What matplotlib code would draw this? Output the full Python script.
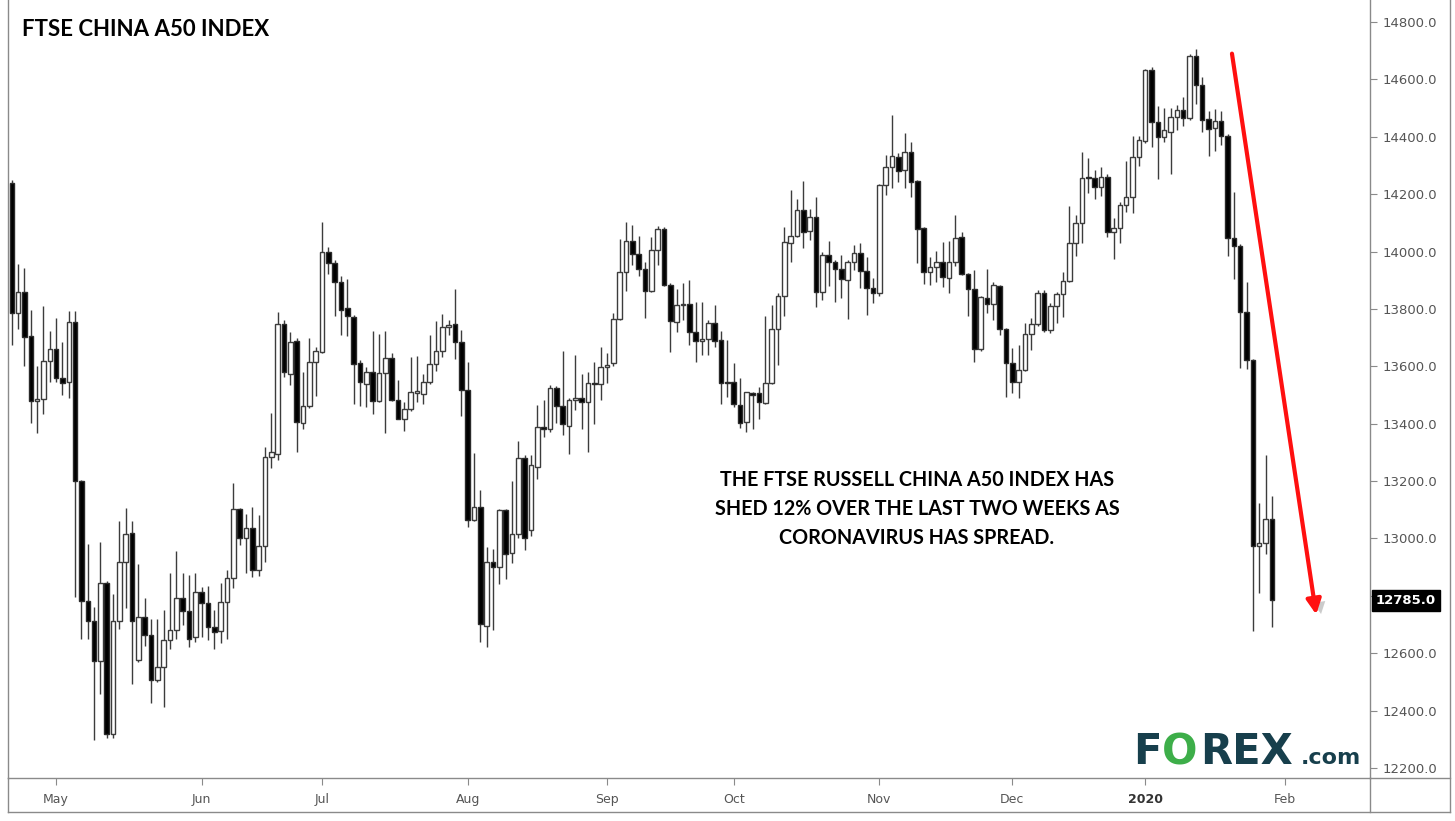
import numpy as np
import pandas as pd
import matplotlib.pyplot as plt
import matplotlib.transforms as mtransforms
import matplotlib.patheffects as pe
from matplotlib.lines import Line2D

# ================= daily OHLC, FTSE China A50 =================
opens = [14240, 13787, 13860, 13706, 13480, 13486, 13620, 13660, 13560, 13546,
         13753, 13199, 12781, 12712, 12572, 12845, 12318, 12712, 12919, 13019,
         12578, 12725, 12665, 12505, 12552, 12646, 12680, 12791, 12748, 12657,
         12814, 12776, 12692, 12678, 12779, 12863, 13101, 13003, 13035, 12889,
         12974, 13284, 13296, 13747, 13575, 13689, 13403, 13462, 13616, 13650,
         13999, 13961, 13894, 13805, 13772, 13612, 13540, 13581, 13480, 13577,
         13630, 13484, 13418, 13450, 13508, 13505, 13546, 13607, 13654, 13738,
         13747, 13685, 13519, 13066, 13110, 12694, 12919, 12901, 13099, 12950,
         13015, 13282, 13030, 13250, 13389, 13383, 13525, 13462, 13391, 13482,
         13490, 13476, 13542, 13538, 13598, 13610, 13764, 13929, 14037, 13991,
         13941, 13863, 14005, 14077, 13883, 13755, 13813, 13817, 13721, 13689,
         13694, 13750, 13692, 13546, 13546, 13465, 13407, 13506, 13506, 13473,
         13541, 13729, 13845, 14031, 14054, 14145, 14073, 14121, 13860, 13988,
         13965, 13938, 13901, 13965, 13996, 13933, 13872, 13854, 14232, 14296,
         14330, 14286, 14348, 14247, 14081, 13930, 13947, 13965, 13907, 13965,
         14052, 13922, 13868, 13659, 13837, 13819, 13880, 13729, 13610, 13546,
         13587, 13713, 13748, 13857, 13727, 13810, 13852, 13899, 14029, 14098,
         14261, 14255, 14226, 14261, 14069, 14081, 14162, 14189, 14328, 14386,
         14633, 14453, 14400, 14418, 14470, 14493, 14464, 14681, 14579, 14462,
         14430, 14455, 14403, 14049, 14021, 13791, 13622, 12974, 12984, 13067]
highs = [14250, 13958, 13944, 13796, 13600, 13809, 13723, 13767, 13684, 13793,
         13793, 13205, 12979, 12761, 12986, 12850, 12805, 13062, 13106, 13062,
         12912, 12792, 12719, 12719, 12752, 12880, 12957, 12880, 12872, 12878,
         12830, 12834, 12750, 12845, 12890, 13192, 13105, 13087, 13110, 13081,
         13319, 13436, 13790, 13763, 13720, 13700, 13581, 13700, 13668, 14104,
         14016, 13972, 13914, 13906, 13780, 13621, 13598, 13722, 13714, 13722,
         13645, 13552, 13476, 13633, 13635, 13575, 13709, 13758, 13784, 13761,
         13871, 13726, 13616, 13298, 13168, 12971, 12965, 13104, 13104, 13201,
         13340, 13290, 13290, 13465, 13482, 13534, 13530, 13653, 13490, 13639,
         13575, 13581, 13616, 13668, 13647, 13786, 14045, 14104, 14092, 14053,
         13964, 14051, 14088, 14085, 13891, 13871, 13889, 13901, 13825, 13825,
         13761, 13814, 13724, 13692, 13610, 13558, 13512, 13512, 13529, 13775,
         13814, 13856, 14084, 14214, 14182, 14247, 14150, 14191, 14000, 14037,
         13970, 13988, 13970, 14023, 14031, 13980, 13907, 14235, 14336, 14476,
         14342, 14412, 14383, 14250, 14085, 13982, 14003, 14034, 14038, 14127,
         14069, 13925, 13936, 13845, 13941, 13895, 13885, 13732, 13663, 13674,
         13752, 13767, 13866, 13866, 13820, 13860, 13930, 14159, 14127, 14348,
         14325, 14284, 14296, 14270, 14116, 14174, 14317, 14403, 14403, 14638,
         14642, 14507, 14502, 14502, 14510, 14540, 14688, 14706, 14609, 14490,
         14496, 14490, 14410, 14207, 14025, 13893, 13625, 13122, 13291, 13149]
lows = [13673, 13729, 13600, 13403, 13366, 13433, 13546, 13546, 13500, 13489,
        12795, 12648, 12650, 12298, 12458, 12305, 12305, 12685, 12759, 12492,
        12570, 12625, 12425, 12500, 12412, 12616, 12650, 12700, 12620, 12640,
        12657, 12646, 12613, 12634, 12648, 12826, 12977, 12878, 12866, 12868,
        12919, 13244, 13273, 13563, 13534, 13302, 13380, 13455, 13496, 13645,
        13921, 13775, 13709, 13705, 13468, 13461, 13459, 13433, 13476, 13366,
        13480, 13415, 13375, 13445, 13476, 13468, 13540, 13584, 13633, 13709,
        13624, 13426, 13041, 13060, 12640, 12622, 12680, 12843, 12860, 12915,
        13000, 12960, 13010, 13209, 13354, 13370, 13401, 13360, 13296, 13447,
        13383, 13302, 13398, 13484, 13542, 13600, 13760, 13863, 13952, 13914,
        13767, 13860, 13952, 13880, 13650, 13720, 13761, 13674, 13616, 13639,
        13639, 13668, 13469, 13494, 13459, 13384, 13372, 13380, 13415, 13470,
        13538, 13604, 13775, 13965, 14050, 14011, 14042, 13808, 13831, 13880,
        13825, 13837, 13764, 13936, 13872, 13779, 13822, 13845, 14197, 14220,
        14243, 14220, 14189, 13959, 13887, 13883, 13895, 13877, 13857, 13949,
        13920, 13775, 13616, 13654, 13785, 13761, 13709, 13494, 13506, 13488,
        13585, 13657, 13740, 13721, 13715, 13750, 13771, 13895, 13984, 14029,
        14203, 14182, 14194, 14052, 13973, 14029, 14139, 14133, 14298, 14380,
        14365, 14252, 14383, 14272, 14423, 14437, 14460, 14514, 14417, 14334,
        14352, 14373, 13984, 13904, 13594, 13590, 12678, 12809, 12947, 12692]
closes = [13787, 13860, 13704, 13480, 13486, 13620, 13660, 13560, 13542, 13756,
          13199, 12781, 12712, 12572, 12845, 12318, 12712, 12919, 13015, 12712,
          12725, 12665, 12505, 12552, 12645, 12680, 12791, 12748, 12651, 12814,
          12776, 12692, 12675, 12779, 12863, 13101, 13003, 13035, 12889, 12974,
          13284, 13302, 13747, 13581, 13685, 13406, 13462, 13616, 13654, 13999,
          13961, 13894, 13798, 13775, 13607, 13546, 13581, 13480, 13577, 13630,
          13484, 13418, 13450, 13511, 13510, 13546, 13607, 13654, 13738, 13743,
          13685, 13519, 13066, 13110, 12701, 12919, 12901, 13099, 12945, 13015,
          13282, 13000, 13255, 13389, 13383, 13525, 13462, 13398, 13482, 13490,
          13476, 13542, 13538, 13598, 13606, 13764, 13929, 14037, 13991, 13941,
          13863, 14005, 14077, 13883, 13758, 13813, 13817, 13721, 13689, 13694,
          13752, 13689, 13541, 13541, 13469, 13403, 13512, 13500, 13477, 13541,
          13729, 13845, 14034, 14054, 14145, 14069, 14121, 13860, 13988, 13965,
          13938, 13903, 13965, 13996, 13933, 13872, 13854, 14232, 14296, 14334,
          14282, 14348, 14243, 14077, 13930, 13947, 13965, 13912, 13965, 14049,
          13922, 13868, 13659, 13843, 13817, 13883, 13729, 13610, 13546, 13587,
          13713, 13748, 13857, 13727, 13810, 13852, 13899, 14029, 14098, 14255,
          14255, 14226, 14261, 14069, 14081, 14162, 14189, 14328, 14388, 14633,
          14453, 14400, 14423, 14470, 14493, 14464, 14681, 14579, 14458, 14428,
          14455, 14403, 14049, 14021, 13791, 13622, 12974, 12984, 13067, 12785]

# trading calendar: weekdays, minus the days the feed skipped
start_date = "2019-04-22"
calendar_end = "2020-02-28"
skipped_days = ["2019-06-07", "2019-09-13", "2019-12-25", "2020-01-01"]
month_labels = ["May", "Jun", "Jul", "Aug", "Sep", "Oct", "Nov", "Dec", "2020", "Feb"]
last_price = 12785.0
y_ticks = list(range(12200, 14801, 200))

title = "FTSE CHINA A50 INDEX"
note = ("THE FTSE RUSSELL CHINA A50 INDEX HAS\n"
        "SHED 12% OVER THE LAST TWO WEEKS AS\n"
        "CORONAVIRUS HAS SPREAD.")

# ============================================================

o = np.array(opens, float)
h = np.array(highs, float)
l = np.array(lows, float)
c = np.array(closes, float)
n = len(c)

cal = pd.bdate_range(start_date, calendar_end)
cal = cal[~cal.isin(pd.to_datetime(skipped_days))]
month_start = np.where(cal.month != np.roll(cal.month, 1))[0]
month_start = month_start[month_start > 0]
idx = np.arange(n)

W, H = 1455, 821
fig = plt.figure(figsize=(W / 100, H / 100), dpi=100)
ax = fig.add_axes([8 / W, (H - 778) / H, 1362 / W, 778 / H])

# wicks, then bodies on top
ax.vlines(idx, l, h, color='#3c3c3c', lw=1.0, zorder=2)
up = c >= o
bottom = np.minimum(o, c)
height = np.maximum(np.abs(c - o), 5)
ax.bar(idx[up], height[up], bottom=bottom[up], width=0.72,
       facecolor='white', edgecolor='#3c3c3c', lw=1.0, zorder=3)
ax.bar(idx[~up], height[~up], bottom=bottom[~up], width=0.72,
       facecolor='black', edgecolor='#2a2a2a', lw=1.0, zorder=3)

ax.set_xlim(-0.6, 214.5)
ax.set_ylim(12165, 14877)

# --- axes cosmetics ---
for side in ['left', 'right', 'bottom']:
    ax.spines[side].set_color('#8a8a8a')
    ax.spines[side].set_linewidth(1)
ax.spines['top'].set_visible(False)

ax.yaxis.tick_right()
ax.set_yticks(y_ticks)
ax.set_yticklabels([f'{v:.1f}' for v in y_ticks])
ax.tick_params(axis='y', length=5, color='#8a8a8a', labelcolor='#555555',
               labelsize=9.5, pad=4)

ax.set_xticks(month_start[:len(month_labels)])
ax.set_xticklabels(month_labels)
ax.tick_params(axis='x', length=5, color='#8a8a8a', labelcolor='#555555',
               labelsize=9, pad=6)
for t in ax.get_xticklabels():
    if t.get_text() == '2020':
        t.set_fontweight('bold')
        t.set_color('#333333')

# last price tag on the right scale
blend = mtransforms.blended_transform_factory(ax.transAxes, ax.transData)
ax.text(1 + 6 / 1362, last_price, f'{last_price:.1f}', transform=blend,
        ha='left', va='center', color='white', fontsize=9.5, fontweight='bold',
        zorder=6, clip_on=False,
        bbox=dict(boxstyle='square,pad=0.3', facecolor='black', edgecolor='black'))

# frame around the bottom strip and price scale
frame = [((8, 8), (778, 812)), ((8, 1450), (812, 812)),
         ((1370, 1370), (778, 812)), ((1450, 1450), (0, 812)),
         ((1370, 1450), (778, 778))]
for xs, ys in frame:
    fig.add_artist(Line2D([x / W for x in xs], [1 - y / H for y in ys],
                          color='#8a8a8a', lw=1))

# --- texts ---
fig.text(22 / W, 1 - 30 / H, title, fontsize=16, fontweight='bold',
         family='Lato', va='center', ha='left', color='black')
fig.text(917 / W, 1 - 509 / H, note, fontsize=14.2, fontweight='bold',
         family='Lato', va='center', ha='center', color='black', linespacing=1.57)

# red trend arrow with soft shadow
ax.annotate('', xy=(206.0, 12735), xytext=(192.7, 14690),
            arrowprops=dict(arrowstyle='-|>', color='#ff1010', lw=3,
                            mutation_scale=22, shrinkA=0, shrinkB=0,
                            path_effects=[pe.SimplePatchShadow(offset=(4, -3), shadow_rgbFace='#999999', alpha=0.5),
                                          pe.Normal()]),
            zorder=5)

# FOREX.com logo
logo_base = 1 - 764 / H
teal = '#173f4c'
fig.text(1133 / W, logo_base, 'F', fontsize=30, fontweight='bold', family='DejaVu Sans',
         color=teal, va='baseline', ha='left')
fig.text(1162 / W, logo_base, 'O', fontsize=30, fontweight='bold', family='DejaVu Sans',
         color='#3dae49', va='baseline', ha='left')
fig.text(1200 / W, logo_base, 'REX', fontsize=30, fontweight='bold', family='DejaVu Sans',
         color=teal, va='baseline', ha='left')
fig.text(1301 / W, logo_base, '.com', fontsize=16, fontweight='bold', family='DejaVu Sans',
         color=teal, va='baseline', ha='left')

fig.savefig('out.png', dpi=100)
